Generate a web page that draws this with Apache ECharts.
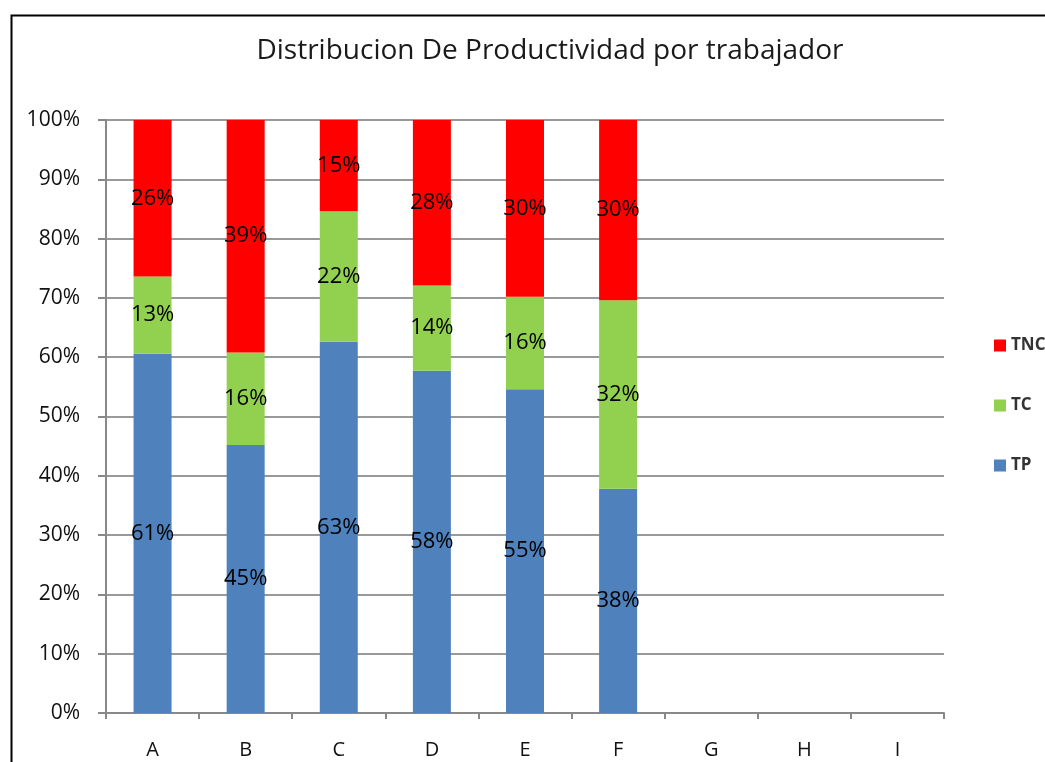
<!DOCTYPE html>
<html><head><meta charset="utf-8">
<script src="https://cdn.jsdelivr.net/npm/echarts@6/dist/echarts.min.js"></script>
<style>html,body{margin:0;padding:0;background:#fff;overflow:hidden}#c{width:1045px;height:762px}</style>
</head><body><div id="c"></div>
<script>
const categories = ['A','B','C','D','E','F','G','H','I'];
const tp  = [60.6, 45.2, 62.6, 57.7, 54.6, 37.8, null, null, null];
const tc  = [13.0, 15.6, 22.0, 14.4, 15.6, 31.8, null, null, null];
const tnc = [26.4, 39.2, 15.4, 27.9, 29.8, 30.4, null, null, null];
const yTicks = [0,10,20,30,40,50,60,70,80,90,100];

const font = '"Open Sans", "Noto Sans", sans-serif';
const lbl = {show:true, position:'inside', color:'#000', fontSize:22, fontFamily:font,
  formatter: p => Math.round(p.value) + '%'};
function s(name, data, color){
  return {name, type:'bar', stack:'t', data, barWidth:38, itemStyle:{color}, label:lbl};
}
const chart = echarts.init(document.getElementById('c'), null, {renderer:'canvas'});
chart.setOption({
  animation:false,
  backgroundColor:'#fff',
  title:{text:'Distribucion De Productividad por trabajador', left:545, top:32, textAlign:'center',
    textStyle:{fontFamily:font, fontWeight:'normal', fontSize:28, color:'#1a1a1a'}},
  grid:{left:106, right:101, top:120, bottom:49},
  legend:{orient:'vertical', left:989, top:332, itemGap:43, itemWidth:12, itemHeight:12, icon:'rect',
    data:['TNC','TC','TP'], textStyle:{fontFamily:font, fontSize:17, fontWeight:'bold', color:'#333'}},
  xAxis:{type:'category', data:categories,
    axisLine:{lineStyle:{color:'#888', width:2}},
    axisTick:{show:true, length:6, lineStyle:{color:'#888', width:2}},
    axisLabel:{color:'#111', fontSize:20, fontFamily:font, margin:27}},
  yAxis:{type:'value', min:0, max:100, interval:10,
    axisLine:{show:true, lineStyle:{color:'#888', width:2}},
    axisTick:{show:true, inside:false, length:8, lineStyle:{color:'#888', width:2}},
    splitLine:{lineStyle:{color:'#999', width:2}},
    axisLabel:{color:'#111', fontSize:21, fontFamily:font, margin:26, formatter: v => v + '%'}},
  graphic:[{type:'rect', left:9, top:13, shape:{width:1100, height:800},
    style:{fill:null, stroke:'#000', lineWidth:2}, z:100, silent:true}],
  series:[s('TP', tp, '#4F81BD'), s('TC', tc, '#92D050'), s('TNC', tnc, '#FF0000')]
});
</script></body></html>
